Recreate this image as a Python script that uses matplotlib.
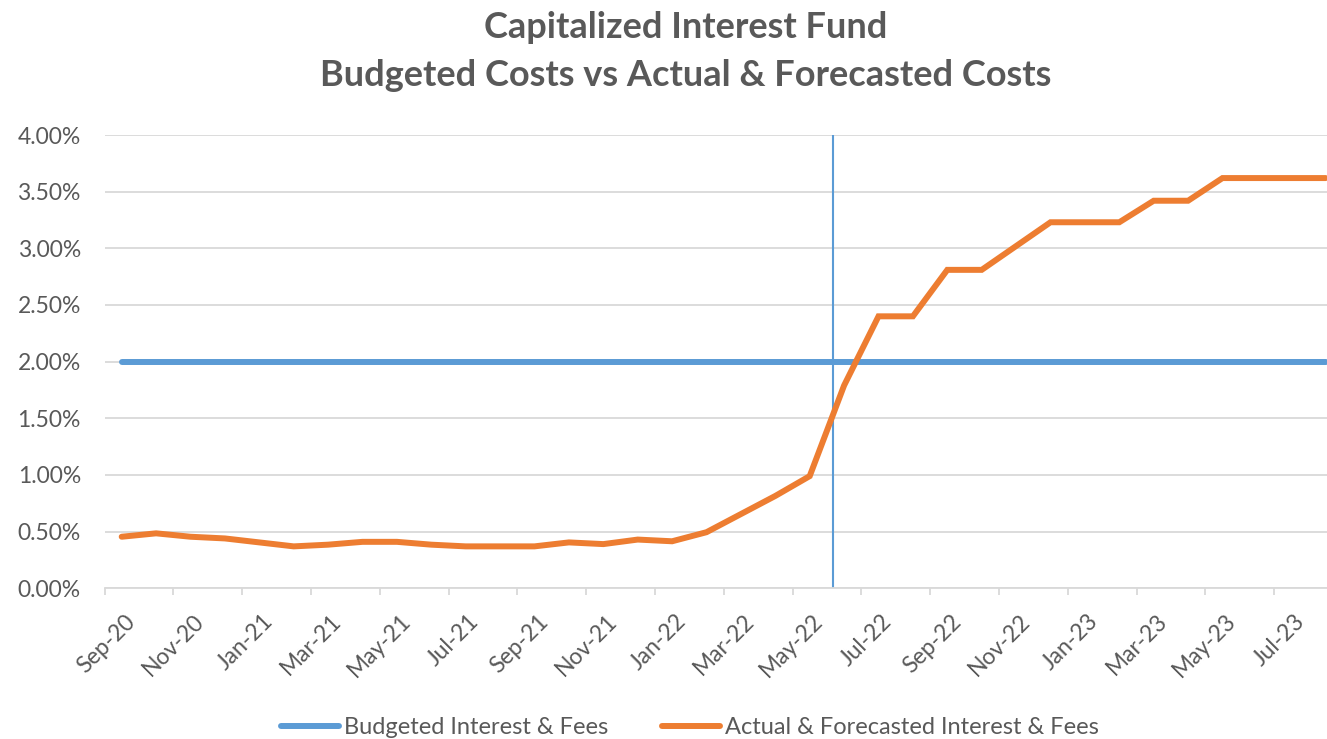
import matplotlib
matplotlib.use("Agg")
import matplotlib.pyplot as plt
import matplotlib.transforms as mtrans
from matplotlib.ticker import FuncFormatter, FixedLocator
import numpy as np

# ---- data ----
months = ["Sep-20", "Oct-20", "Nov-20", "Dec-20", "Jan-21", "Feb-21", "Mar-21", "Apr-21",
          "May-21", "Jun-21", "Jul-21", "Aug-21", "Sep-21", "Oct-21", "Nov-21", "Dec-21",
          "Jan-22", "Feb-22", "Mar-22", "Apr-22", "May-22", "Jun-22", "Jul-22", "Aug-22",
          "Sep-22", "Oct-22", "Nov-22", "Dec-22", "Jan-23", "Feb-23", "Mar-23", "Apr-23",
          "May-23", "Jun-23", "Jul-23", "Aug-23"]
budgeted = [2.00] * 36
actual = [0.455, 0.485, 0.455, 0.44, 0.405, 0.37, 0.385, 0.41,
          0.41, 0.385, 0.37, 0.37, 0.37, 0.405, 0.39, 0.43,
          0.415, 0.495, 0.655, 0.815, 0.99, 1.79, 2.40, 2.40,
          2.81, 2.81, 3.02, 3.23, 3.23, 3.23, 3.42, 3.42,
          3.62, 3.62, 3.62, 3.62]
marker_month = 21.17   # vertical "today" marker, in months from Sep-20
series_names = ["Budgeted Interest & Fees", "Actual & Forecasted Interest & Fees"]
title_lines = ["Capitalized Interest Fund", "Budgeted Costs vs Actual & Forecasted Costs"]

BLUE = "#5B9BD5"
ORANGE = "#ED7D31"
TXT = "#595959"
GRID = "#D9D9D9"
FONT = "Lato"

W, H = 1327, 739
fig = plt.figure(figsize=(W / 100, H / 100), dpi=100)
ax = fig.add_axes([104.5 / W, (H - 588.3) / H, 1238.4 / W, (588.3 - 135) / H])

x = np.arange(len(months)) + 0.5
l1, = ax.plot(x, budgeted, color=BLUE, lw=4.3, solid_capstyle="round", zorder=3)
l2, = ax.plot(x, actual, color=ORANGE, lw=4.3, solid_capstyle="round",
              solid_joinstyle="miter", zorder=4)
ax.axvline(marker_month, color=BLUE, lw=1.5, zorder=2)

ax.set_xlim(0, len(months))
ax.set_ylim(0, 4.0)
ax.set_yticks(np.arange(0, 4.01, 0.5))
ax.yaxis.set_major_formatter(FuncFormatter(lambda v, p: f"{v:.2f}%"))
ax.grid(axis="y", color=GRID, lw=1.3)
ax.set_axisbelow(True)

tick_pos = np.arange(0, len(months), 2)
ax.xaxis.set_major_locator(FixedLocator(tick_pos))
ax.set_xticklabels([months[i] for i in tick_pos], rotation=45, ha="right",
                   rotation_mode="anchor", fontsize=16.5, color=TXT, family=FONT)
ax.tick_params(axis="x", length=5, color=GRID, width=1.3, pad=6)
ax.tick_params(axis="y", length=0, labelsize=16.5, labelcolor=TXT, pad=17)
for lab in ax.get_yticklabels():
    lab.set_family(FONT)
offset = mtrans.ScaledTranslation(20 / 100, -7 / 100, fig.dpi_scale_trans)
for lab in ax.get_xticklabels():
    lab.set_transform(lab.get_transform() + offset)

for s in ["top", "right", "left"]:
    ax.spines[s].set_visible(False)
ax.spines["bottom"].set_color(GRID)
ax.spines["bottom"].set_linewidth(1.3)

fig.text(686 / W, 1 - 28 / H, title_lines[0], ha="center", va="center",
         fontsize=26, fontweight="bold", color=TXT, family=FONT)
fig.text(686 / W, 1 - 76 / H, title_lines[1], ha="center", va="center",
         fontsize=26, fontweight="bold", color=TXT, family=FONT)

leg = fig.legend([l1, l2], series_names, loc="center", bbox_to_anchor=(690 / W, 1 - 728 / H),
                 ncol=2, frameon=False, handlelength=2.45, handletextpad=0.2,
                 columnspacing=2.3, prop={"family": FONT, "size": 17})
for t in leg.get_texts():
    t.set_color(TXT)

fig.savefig("out.png", dpi=100)
